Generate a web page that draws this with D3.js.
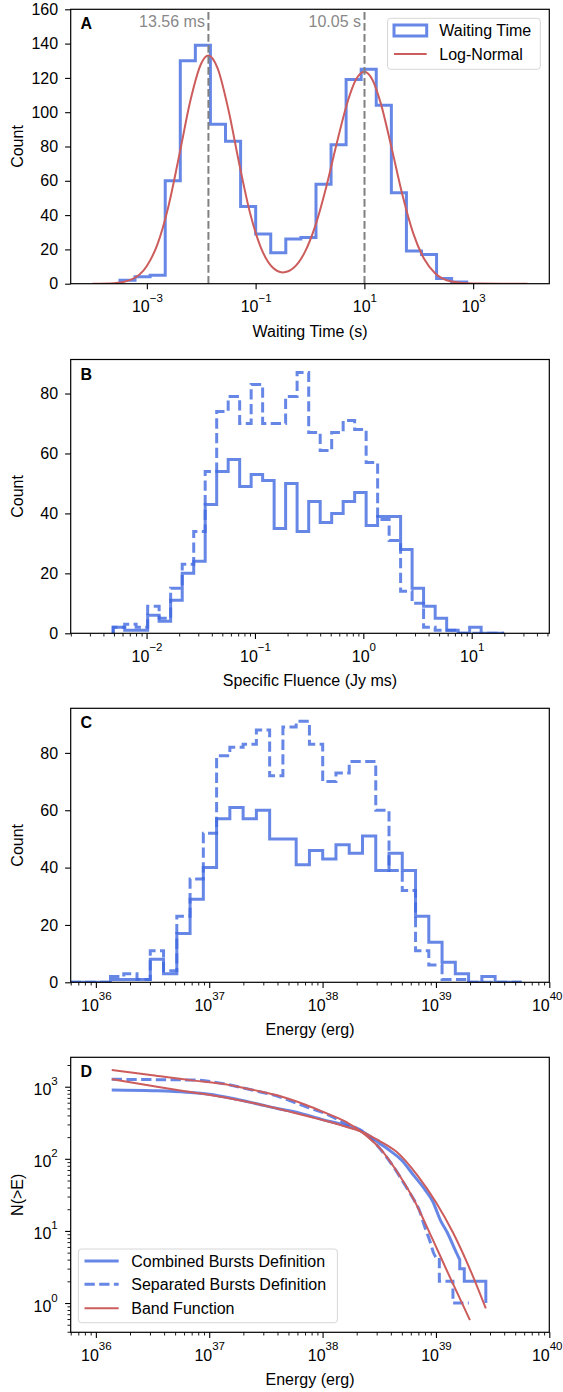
<!DOCTYPE html>
<html><head><meta charset="utf-8">
<script src="https://cdn.jsdelivr.net/npm/d3@7"></script>
<style>
body{margin:0;background:#fff}
text{font-family:"Liberation Sans",Arial,Helvetica,sans-serif}
</style>
</head><body>
<svg id="c" width="563" height="1392"></svg>
<script>
// ---------------- DATA ----------------
// Panel A: waiting time histogram (log10 bin edges, counts)
const waitEdgesLog = [-3.494,-3.217,-2.940,-2.662,-2.385,-2.108,-1.831,-1.554,-1.276,-0.999,-0.722,-0.445,-0.168,0.110,0.387,0.664,0.941,1.218,1.496,1.773,2.050,2.327,2.604,2.882];
const waitCounts = [2,4,5,60,130,139,93,83,45,29,18,26,27,58,81,119,125,104,53,19,17,3,1];
// Log-normal fit curve (log10 seconds, count)
const logNormLogX = [-4.0,-3.6,-3.3,-3.0,-2.8,-2.6,-2.4,-2.2,-2.0,-1.87,-1.7,-1.5,-1.3,-1.1,-0.9,-0.7,-0.5,-0.3,-0.1,0.1,0.3,0.5,0.7,0.85,1.0,1.15,1.3,1.5,1.7,1.9,2.1,2.3,2.6,3.0,3.5,4.0];
const logNormY = [0,0.3,2.2,10.3,23.4,45.5,75.5,106.7,128.4,133,125.7,101.4,69.8,40.9,20.8,9.9,6.6,9.3,18.1,34,56.6,82.9,107,119.3,123.6,118.8,105.3,79.2,51.7,29.2,14.4,6.1,1.3,0.1,0,0];
const peakValues = [0.01356, 10.05];
const peakLabels = ["13.56 ms", "10.05 s"];
const waitLegend = ["Waiting Time", "Log-Normal"];

// Panel B: specific fluence histograms
const fluenceEdgesLog = [-2.308,-2.202,-2.096,-1.990,-1.884,-1.778,-1.671,-1.565,-1.459,-1.353,-1.247,-1.141,-1.035,-0.929,-0.823,-0.717,-0.611,-0.504,-0.398,-0.292,-0.186,-0.080,0.026,0.132,0.238,0.344,0.450,0.556,0.663,0.769,0.875,0.981,1.087,1.193,1.299];
const fluenceCombined = [2,1,1,6,4,11,20,24,43,54,58,49,53,51,35,50,34,44,37,40,44,47,36,39,39,28,15,9,5,1,0,2,0,0];
const fluenceSeparated = [2,3,2,9,5,15,23,34,54,74,79,70,83,70,70,79,87,67,61,67,71,68,57,38,31,14,10,2,1,1,0,0,0,0];

// Panel C: energy histograms
const energyEdgesLog = [35.778,35.895,36.012,36.129,36.246,36.363,36.480,36.597,36.714,36.831,36.948,37.065,37.182,37.299,37.416,37.533,37.650,37.767,37.884,38.001,38.118,38.235,38.352,38.469,38.586,38.703,38.820,38.937,39.054,39.171,39.288,39.405,39.522,39.639,39.756];
const energyCombined = [0,0,0,1,1,1,8,3,17,29,40,57,61,57,60,50,50,41,46,43,48,45,51,39,45,39,23,14,7,3,0,2,0,0];
const energySeparated = [0,0,0,2,3,1,11,4,23,36,52,79,82,83,88,72,89,91,83,70,73,77,77,60,39,32,11,6,1,1,0,0,0,0];

// Panel D: cumulative distributions N(>E)
const cdfCombinedLogE = [36.14,36.5,36.8,37.0,37.2,37.4,37.6,37.8,38.0,38.2,38.37,38.5,38.6,38.7,38.8,38.9,38.97,39.04,39.1,39.18,39.21];
const cdfCombinedN    = [900,880,840,785,690,590,500,430,350,290,230,165,128,95,60,38,26,14,9.5,5,4];
const cdfCombinedTailLogE = [39.21,39.25,39.25,39.44,39.44];
const cdfCombinedTailN    = [3,3,2,2,1];
const cdfSeparatedLogE = [36.14,36.5,36.87,37.1,37.378,37.6,37.855,38.0,38.203,38.377,38.52,38.65,38.72,38.806,38.85,38.901,38.95,38.98,39.0];
const cdfSeparatedN    = [1268,1255,1238,1120,900,740,528,440,310,226,130,68,45,27,20,11.4,7,4.9,4.3];
const cdfSeparatedTailLogE = [39.03,39.03,39.15,39.15,39.29];
const cdfSeparatedTailN    = [4.3,2,2,1,1];
const bandSeparatedLogE = [36.14,36.5,36.87,37.1,37.378,37.6,37.855,38.0,38.203,38.377,38.52,38.647,38.806,38.965,39.122,39.30];
const bandSeparatedN    = [1706,1440,1215,1110,910,760,557,450,327,215,132,70,27,8,2.3,0.58];
const bandCombinedLogE = [36.14,36.5,36.8,37.06,37.4,37.7,38.0,38.2,38.38,38.5,38.65,38.84,39.0,39.15,39.31,39.44];
const bandCombinedN    = [1268,1025,860,745,590,455,345,280,226,178,126,58,25,9.5,2.7,0.84];
const cdfLegend = ["Combined Bursts Definition","Separated Bursts Definition","Band Function"];

// Tick labels
const waitTickExp = [-3,-1,1,3];
const countTicksA = [0,20,40,60,80,100,120,140,160];
const fluenceTickExp = [-2,-1,0,1];
const countTicksBC = [0,20,40,60,80];
const energyTickExp = [36,37,38,39,40];
const cdfTickExp = [0,1,2,3];
const panelLetters = ["A","B","C","D"];
const xLabels = ["Waiting Time (s)","Specific Fluence (Jy ms)","Energy (erg)","Energy (erg)"];
const yLabels = ["Count","Count","Count","N(>E)"];

// ---------------- DRAWING ----------------
const svg = d3.select("#c");
svg.append("rect").attr("width",563).attr("height",1392).attr("fill","#fff");
const L = 70.7, R = 549.3;
const BLUE = "#4169e1", RED = "#cd5c5c";
const HIST_W = 3, DASH = "10.3,4.4";
const P = [
  {top:9.3, bottom:283.7},
  {top:359.5, bottom:633.3},
  {top:708.3, bottom:982.3},
  {top:1057.3, bottom:1332.3}
];
const p10 = e => Math.pow(10, e);
const expStr = e => (e < 0 ? "\u2212" + (-e) : "" + e);

P.forEach((p,i)=>{
  svg.append("clipPath").attr("id","clip"+i).append("rect")
    .attr("x",L).attr("y",p.top).attr("width",R-L).attr("height",p.bottom-p.top);
});

function minorVals(x){
  const [a,b] = x.domain();
  const out=[];
  for(let e=Math.floor(Math.log10(a))-1;e<=Math.ceil(Math.log10(b));e++){
    for(let m=2;m<=9;m++){const v=m*Math.pow(10,e); if(v>=a*0.999 && v<=b*1.001) out.push(v);}
  }
  return out;
}

function logXAxis(x, p, exps, withMinor){
  const g = svg.append("g").attr("transform",`translate(0,${p.bottom})`)
    .call(d3.axisBottom(x).tickValues(exps.map(p10)).tickSize(5.6).tickFormat(""));
  g.select(".domain").remove();
  g.selectAll(".tick line").attr("stroke","#000").attr("stroke-width",1.1);
  g.selectAll(".tick text").remove();
  g.selectAll(".tick").each(function(d,i){
    const t = d3.select(this).append("text").attr("text-anchor","middle")
      .attr("y",28.5).attr("font-size",16).attr("fill","#000");
    t.append("tspan").text("10");
    t.append("tspan").attr("dy",-10.5).attr("font-size",11.5).text(expStr(exps[i]));
    // keep the label inside the page
    const bb = t.node().getBBox();
    const tx = x(d);
    const over = tx + bb.x + bb.width - 562;
    if(over > 0) t.attr("x", -over);
  });
  if(withMinor){
    const gm = svg.append("g").attr("transform",`translate(0,${p.bottom})`)
      .call(d3.axisBottom(x).tickValues(minorVals(x)).tickSize(3.2).tickFormat(""));
    gm.select(".domain").remove();
    gm.selectAll(".tick line").attr("stroke","#000").attr("stroke-width",0.9);
    gm.selectAll(".tick text").remove();
  }
}
function linYAxis(y, ticks){
  const g = svg.append("g").attr("transform",`translate(${L},0)`)
    .call(d3.axisLeft(y).tickValues(ticks).tickSize(5.6).tickPadding(7));
  g.select(".domain").remove();
  g.selectAll(".tick line").attr("stroke","#000").attr("stroke-width",1.1);
  g.selectAll(".tick text").attr("font-size",16).attr("fill","#000");
}
function frame(p){
  svg.append("rect").attr("x",L).attr("y",p.top).attr("width",R-L).attr("height",p.bottom-p.top)
    .attr("fill","none").attr("stroke","#000").attr("stroke-width",1.2);
}
function letter(p,i){
  svg.append("text").attr("x",80.5).attr("y",p.top+20).attr("font-size",16)
    .attr("font-weight","bold").text(panelLetters[i]);
}
function labels(p,i){
  svg.append("text").attr("x",(L+R)/2).attr("y",p.bottom+53).attr("text-anchor","middle")
    .attr("font-size",16).text(xLabels[i]);
  svg.append("text").attr("transform",`translate(22.5,${(p.top+p.bottom)/2}) rotate(-90)`)
    .attr("text-anchor","middle").attr("font-size",16).text(yLabels[i]);
}
function histPts(edges, counts){
  const pts=[[p10(edges[0]),0]];
  counts.forEach((c,k)=>{pts.push([p10(edges[k]),c]); pts.push([p10(edges[k+1]),c]);});
  pts.push([p10(edges[edges.length-1]),0]);
  return pts;
}
function drawHist(x,y,i,edges,counts,dashed){
  const line = d3.line().x(d=>x(d[0])).y(d=>y(d[1]));
  const path = svg.append("path").attr("clip-path",`url(#clip${i})`)
    .attr("d",line(histPts(edges,counts)))
    .attr("fill","none").attr("stroke",BLUE).attr("stroke-opacity",0.8)
    .attr("stroke-width",HIST_W).attr("stroke-linejoin","miter");
  if(dashed) path.attr("stroke-dasharray",DASH);
}
function legendBox(x0,y0,x1,y1){
  svg.append("rect").attr("x",x0).attr("y",y0).attr("width",x1-x0).attr("height",y1-y0)
    .attr("rx",3).attr("fill","#fff").attr("fill-opacity",0.8)
    .attr("stroke","#d6d6d6").attr("stroke-width",1);
}

// ----- Panel A -----
{
  const p=P[0], i=0;
  const x = d3.scaleLog().domain([p10(-4.4),p10(4.4)]).range([L,R]);
  const y = d3.scaleLinear().domain([0,160]).range([p.bottom,p.top]);
  drawHist(x,y,i,waitEdgesLog,waitCounts,false);
  const curve = d3.line().x(d=>x(p10(d[0]))).y(d=>y(d[1])).curve(d3.curveMonotoneX);
  svg.append("path").attr("clip-path",`url(#clip${i})`)
    .attr("d",curve(logNormLogX.map((v,k)=>[v,logNormY[k]])))
    .attr("fill","none").attr("stroke",RED).attr("stroke-width",2);
  peakValues.forEach((v,k)=>{
    svg.append("line").attr("x1",x(v)).attr("x2",x(v)).attr("y1",p.bottom).attr("y2",p.top)
      .attr("stroke","#808080").attr("stroke-width",2).attr("stroke-dasharray","7.7,3.3");
    svg.append("text").attr("x",x(v)-3.5).attr("y",p.top+17.4).attr("text-anchor","end")
      .attr("font-size",16).attr("fill","#888").text(peakLabels[k]);
  });
  frame(p);
  logXAxis(x,p,waitTickExp,false);
  linYAxis(y,countTicksA);
  letter(p,i); labels(p,i);
  legendBox(387.5,18.3,540.3,69.3);
  svg.append("rect").attr("x",394).attr("y",25).attr("width",32.7).attr("height",11)
    .attr("fill","none").attr("stroke",BLUE).attr("stroke-opacity",0.8).attr("stroke-width",HIST_W);
  svg.append("line").attr("x1",394).attr("x2",426.7).attr("y1",54).attr("y2",54)
    .attr("stroke",RED).attr("stroke-width",2);
  svg.append("text").attr("x",439.3).attr("y",36.3).attr("font-size",16).text(waitLegend[0]);
  svg.append("text").attr("x",439.3).attr("y",59.6).attr("font-size",16).text(waitLegend[1]);
}

// ----- Panel B -----
{
  const p=P[1], i=1;
  const x = d3.scaleLog().domain([p10(-2.70),p10(1.716)]).range([L,R]);
  const y = d3.scaleLinear().domain([0,d3.max(fluenceSeparated)*1.05]).range([p.bottom,p.top]);
  drawHist(x,y,i,fluenceEdgesLog,fluenceCombined,false);
  drawHist(x,y,i,fluenceEdgesLog,fluenceSeparated,true);
  frame(p);
  logXAxis(x,p,fluenceTickExp,true);
  linYAxis(y,countTicksBC);
  letter(p,i); labels(p,i);
}

// ----- Panel C -----
{
  const p=P[2], i=2;
  const x = d3.scaleLog().domain([p10(35.778),p10(40)]).range([L,R]);
  const y = d3.scaleLinear().domain([0,d3.max(energySeparated)*1.05]).range([p.bottom,p.top]);
  drawHist(x,y,i,energyEdgesLog,energyCombined,false);
  drawHist(x,y,i,energyEdgesLog,energySeparated,true);
  frame(p);
  logXAxis(x,p,energyTickExp,true);
  linYAxis(y,countTicksBC);
  letter(p,i); labels(p,i);
}

// ----- Panel D -----
{
  const p=P[3], i=3;
  const x = d3.scaleLog().domain([p10(35.778),p10(40)]).range([L,R]);
  const y = d3.scaleLog().domain([p10(-0.406),p10(3.408)]).range([p.bottom,p.top]);
  const smooth = d3.line().x(d=>x(p10(d[0]))).y(d=>y(d[1])).curve(d3.curveMonotoneX);
  const lin = d3.line().x(d=>x(p10(d[0]))).y(d=>y(d[1]));
  const zip = (a,b)=>a.map((v,k)=>[v,b[k]]);
  function blue(le,n,tle,tn,dashed){
    const s = zip(le,n);
    const d = smooth(s) + lin([s[s.length-1]].concat(zip(tle,tn))).replace(/^M/,"L");
    const path = svg.append("path").attr("clip-path",`url(#clip${i})`).attr("d",d)
      .attr("fill","none").attr("stroke",BLUE).attr("stroke-opacity",0.8).attr("stroke-width",HIST_W);
    if(dashed) path.attr("stroke-dasharray",DASH);
  }
  blue(cdfCombinedLogE,cdfCombinedN,cdfCombinedTailLogE,cdfCombinedTailN,false);
  blue(cdfSeparatedLogE,cdfSeparatedN,cdfSeparatedTailLogE,cdfSeparatedTailN,true);
  [[bandSeparatedLogE,bandSeparatedN],[bandCombinedLogE,bandCombinedN]].forEach(([le,n])=>{
    svg.append("path").attr("clip-path",`url(#clip${i})`).attr("d",smooth(zip(le,n)))
      .attr("fill","none").attr("stroke",RED).attr("stroke-width",2);
  });
  frame(p);
  logXAxis(x,p,energyTickExp,true);
  // log y axis
  const g = svg.append("g").attr("transform",`translate(${L},0)`)
    .call(d3.axisLeft(y).tickValues(cdfTickExp.map(p10)).tickSize(5.6).tickFormat(""));
  g.select(".domain").remove();
  g.selectAll(".tick line").attr("stroke","#000").attr("stroke-width",1.1);
  g.selectAll(".tick text").remove();
  g.selectAll(".tick").each(function(d,k){
    const t = d3.select(this).append("text").attr("text-anchor","end")
      .attr("x",-13).attr("y",8).attr("font-size",16).attr("fill","#000");
    t.append("tspan").text("10");
    t.append("tspan").attr("dy",-10).attr("font-size",11.5).text(expStr(cdfTickExp[k]));
  });
  const gm = svg.append("g").attr("transform",`translate(${L},0)`)
    .call(d3.axisLeft(y).tickValues(minorVals(y)).tickSize(3.2).tickFormat(""));
  gm.select(".domain").remove();
  gm.selectAll(".tick line").attr("stroke","#000").attr("stroke-width",0.9);
  gm.selectAll(".tick text").remove();
  letter(p,i); labels(p,i);
  legendBox(78.4,1249,337.4,1322.7);
  const rows=[1261,1284.3,1308.3];
  rows.forEach((ry,k)=>{
    const ln = svg.append("line").attr("x1",84.5).attr("x2",118.7).attr("y1",ry).attr("y2",ry)
      .attr("stroke",k<2?BLUE:RED).attr("stroke-opacity",k<2?0.8:1).attr("stroke-width",k<2?HIST_W:2);
    if(k===1) ln.attr("stroke-dasharray",DASH);
    svg.append("text").attr("x",131.3).attr("y",ry+5.6).attr("font-size",16).text(cdfLegend[k]);
  });
}
</script>
</body></html>
